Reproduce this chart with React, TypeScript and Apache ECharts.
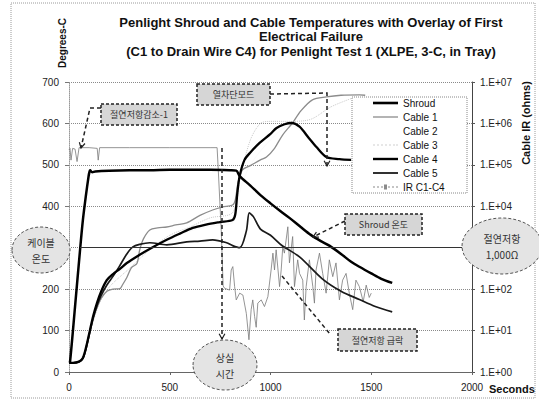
import React, { useEffect, useRef } from "react";
import * as echarts from "echarts";

// ---- data (seconds, value) ----
const xTicks = [0, 500, 1000, 1500, 2000];
const tempTicks = [0, 100, 200, 300, 400, 500, 600, 700];

const shroud: [number, number][] = [
  [0, 22], [5, 24], [30, 158], [54, 290], [69, 367], [85, 430], [95, 465], [100, 480], [105, 487],
  [115, 482], [130, 484], [200, 486], [300, 487], [400, 487], [500, 488], [600, 488], [700, 488],
  [800, 487], [830, 486], [847, 473], [900, 450], [950, 427], [1000, 407], [1050, 388], [1094, 372],
  [1150, 350], [1200, 331], [1250, 316], [1292, 305], [1350, 285], [1400, 266], [1441, 254],
  [1500, 238], [1550, 225], [1604, 215],
];

const cable1: [number, number][] = [
  [0, 22], [20, 22], [50, 25], [69, 32], [85, 55], [104, 95], [120, 128], [139, 155], [160, 178],
  [188, 195], [218, 200], [252, 201], [265, 210], [287, 228], [310, 252], [337, 262], [351, 295],
  [370, 322], [401, 343], [440, 348], [485, 350], [530, 355], [584, 360], [650, 378], [713, 391],
  [760, 398], [812, 403], [825, 415], [840, 460], [861, 488], [900, 498], [950, 512], [980, 519],
  [1020, 540], [1060, 572], [1109, 601], [1150, 630], [1208, 657], [1277, 664], [1350, 668],
  [1441, 669], [1470, 668],
];

const cable2: [number, number][] = [
  [0, 22], [50, 25], [100, 92], [150, 170], [200, 215], [300, 262], [400, 300], [500, 320],
  [600, 340], [700, 352], [812, 360], [850, 440], [900, 500], [1000, 560], [1100, 595],
  [1200, 560], [1300, 520], [1400, 510],
];

const cable3: [number, number][] = [
  [0, 22], [50, 25], [100, 90], [150, 165], [200, 205], [300, 250], [400, 295], [500, 330],
  [600, 350], [700, 372], [812, 385], [850, 470], [900, 560], [950, 600], [1000, 605],
  [1100, 605], [1200, 610], [1300, 640], [1400, 660],
];

const cable4: [number, number][] = [
  [0, 22], [20, 22], [50, 25], [69, 34], [85, 60], [104, 101], [120, 135], [139, 167], [160, 195],
  [188, 222], [220, 237], [250, 248], [287, 263], [351, 283], [400, 297], [485, 319], [550, 334],
  [614, 348], [680, 356], [748, 362], [812, 367], [825, 380], [835, 430], [847, 473], [871, 512],
  [900, 530], [946, 553], [1000, 575], [1030, 589], [1070, 598], [1104, 601], [1144, 592],
  [1190, 565], [1228, 543], [1277, 519], [1342, 514], [1400, 512],
];

const cable5: [number, number][] = [
  [0, 22], [20, 22], [50, 25], [69, 33], [85, 58], [104, 98], [120, 130], [139, 160], [160, 185],
  [188, 210], [220, 232], [250, 255], [287, 285], [317, 302], [350, 308], [401, 312], [485, 307],
  [584, 314], [650, 316], [713, 319], [782, 312], [812, 305], [847, 300], [880, 340], [895, 384],
  [915, 375], [950, 345], [1000, 330], [1055, 306], [1144, 278], [1257, 225], [1350, 195],
  [1441, 175], [1520, 158], [1604, 145],
];

const irC1C4: [number, number][] = [
  [0, 2.3e5], [5, 2.5e5], [10, 1.3e5], [18, 2.5e5], [30, 2.4e5], [40, 1.2e5], [50, 2.6e5],
  [100, 2.6e5], [140, 2.5e5], [145, 1.3e5], [152, 2.6e5], [300, 2.6e5], [500, 2.6e5], [700, 2.6e5],
  [735, 2.6e5], [740, 9e4], [755, 3e3], [765, 120], [772, 105], [797, 95], [805, 290], [813, 350],
  [822, 115], [830, 55], [847, 80], [863, 72], [880, 26], [893, 6], [904, 32], [912, 55], [921, 22],
  [929, 12], [937, 46], [954, 55], [970, 38], [987, 66], [1003, 290], [1012, 740], [1020, 290],
  [1028, 890], [1045, 115], [1053, 290], [1061, 1070], [1069, 740], [1086, 3200], [1094, 430],
  [1110, 1860], [1119, 115], [1135, 510], [1144, 240], [1160, 165], [1168, 18], [1177, 115],
  [1193, 510], [1210, 115], [1218, 46], [1226, 290], [1243, 740], [1259, 240], [1276, 80],
  [1292, 510], [1309, 200], [1325, 430], [1342, 55], [1358, 165], [1375, 240], [1391, 80],
  [1408, 32], [1424, 165], [1441, 115], [1460, 50], [1475, 125], [1490, 63], [1500, 80],
];

const failureTemp = 300;
const failureIR = 1000;

const FONT = "Liberation Sans, Arial, sans-serif";
const KFONT = "Noto Sans CJK KR, sans-serif";

function boxNote(x: number, y: number, w: number, h: number, text: string) {
  return [
    {
      type: "rect",
      z: 20,
      shape: { x, y, width: w, height: h },
      style: { fill: "#d6d6d6", stroke: "#222", lineWidth: 1.5, lineDash: [3, 2] },
    },
    {
      type: "text",
      z: 21,
      x: x + w / 2,
      y: y + h / 2,
      style: { text, fill: "#333", font: `9px ${KFONT}`, align: "center", verticalAlign: "middle" },
    },
  ];
}

function ellipseNote(cx: number, cy: number, rx: number, ry: number, lines: string[]) {
  return [
    {
      type: "ellipse",
      z: 20,
      shape: { cx, cy, rx, ry },
      style: { fill: "#e4e4e4", stroke: "#555", lineWidth: 1, lineDash: [3, 2] },
    },
    {
      type: "text",
      z: 21,
      x: cx,
      y: cy,
      style: {
        text: lines.join("\n"),
        fill: "#333",
        font: `10px ${KFONT}`,
        align: "center",
        verticalAlign: "middle",
        lineHeight: 16,
      },
    },
  ];
}

function dashedLine(points: number[][], arrow?: "end") {
  const els: any[] = [
    {
      type: "polyline",
      z: 19,
      shape: { points },
      style: { stroke: "#222", lineWidth: 1.5, lineDash: [4, 3], fill: null },
    },
  ];
  if (arrow) {
    const [x1, y1] = points[points.length - 2];
    const [x2, y2] = points[points.length - 1];
    const a = Math.atan2(y2 - y1, x2 - x1);
    const L = 6;
    els.push({
      type: "polyline",
      z: 19,
      shape: {
        points: [
          [x2 - L * Math.cos(a - 0.5), y2 - L * Math.sin(a - 0.5)],
          [x2, y2],
          [x2 - L * Math.cos(a + 0.5), y2 - L * Math.sin(a + 0.5)],
        ],
      },
      style: { stroke: "#222", lineWidth: 1.2, fill: null },
    });
  }
  return els;
}

const solidIcon = (h: number) => `path://M0 0H25V${h}H0Z`;
const dottedIcon = "path://M0 0H2V1.2H0ZM4 0H6V1.2H4ZM8 0H10V1.2H8ZM12 0H14V1.2H12ZM16 0H18V1.2H16ZM20 0H22V1.2H20ZM23 0H25V1.2H23Z";
const irIcon = "path://M0 2H2V3H0ZM4 2H6V3H4ZM8 2H10V3H8ZM11 0H14V5H11ZM15 2H17V3H15ZM19 2H21V3H19ZM23 2H25V3H23Z";

export default function App() {
  const ref = useRef<HTMLDivElement>(null);
  useEffect(() => {
    if (!ref.current) return;
    const chart = echarts.init(ref.current, undefined, { renderer: "svg" });
    const lineSeries = (name: string, data: [number, number][], color: string, width: number, type: any = "solid", z = 2) => ({
      name,
      type: "line",
      data,
      showSymbol: false,
      symbol: "none",
      smooth: 0.3,
      z,
      lineStyle: { color, width, type },
      itemStyle: { color },
    });
    chart.setOption({
      animation: false,
      backgroundColor: "#fff",
      textStyle: { fontFamily: FONT },
      grid: { left: 69, right: 67, top: 82, bottom: 29, containLabel: false },
      legend: {
        orient: "vertical",
        left: 373,
        top: 98,
        padding: 0,
        itemWidth: 25,
        itemHeight: 10,
        itemGap: 4,
        z: 30,
        textStyle: { fontSize: 10, color: "#111", fontFamily: FONT },
        data: [
          { name: "Shroud", icon: solidIcon(2.6), itemStyle: { color: "#000" } },
          { name: "Cable 1", icon: solidIcon(1.3), itemStyle: { color: "#8c8c8c" } },
          { name: "Cable 2", icon: solidIcon(1), itemStyle: { color: "#ffffff" } },
          { name: "Cable 3", icon: dottedIcon, itemStyle: { color: "#d0d0d0" } },
          { name: "Cable 4", icon: solidIcon(2.4), itemStyle: { color: "#000" } },
          { name: "Cable 5", icon: solidIcon(1.8), itemStyle: { color: "#1a1a1a" } },
          { name: "IR C1-C4", icon: irIcon, itemStyle: { color: "#8a8a8a" } },
        ],
      },
      xAxis: {
        type: "value",
        min: xTicks[0],
        max: xTicks[xTicks.length - 1],
        interval: 500,
        axisLine: { show: true, lineStyle: { color: "#666", width: 1 } },
        axisTick: { show: true, length: 3, lineStyle: { color: "#666" } },
        axisLabel: { fontSize: 10, color: "#222", margin: 10, fontFamily: FONT, formatter: (v: number) => String(v) },
        splitLine: { show: false },
      },
      yAxis: [
        {
          type: "value",
          min: tempTicks[0],
          max: tempTicks[tempTicks.length - 1],
          interval: 100,
          axisLine: { show: true, lineStyle: { color: "#999", type: "dotted" } },
          axisTick: { show: true, length: 4, lineStyle: { color: "#777" } },
          axisLabel: {
            fontSize: 10,
            color: "#222",
            margin: 10,
            fontFamily: FONT,
            formatter: (v: number) => (v === failureTemp ? "" : String(v)),
          },
          splitLine: { show: true, lineStyle: { color: "#8a8a8a", type: "dotted", width: 1 } },
        },
        {
          type: "log",
          logBase: 10,
          min: 1,
          max: 1e7,
          splitNumber: 7,
          position: "right",
          axisLine: { show: true, lineStyle: { color: "#444", width: 1 } },
          axisTick: { show: true, length: 3, lineStyle: { color: "#555" } },
          axisLabel: {
            fontSize: 10,
            color: "#222",
            margin: 8,
            fontFamily: FONT,
            formatter: (v: number) => {
              const e = Math.round(Math.log10(v));
              return Math.pow(10, e) === failureIR ? "" : "1.E+" + String(e).padStart(2, "0");
            },
          },
          splitLine: { show: false },
        },
      ],
      series: [
        lineSeries("Cable 2", cable2, "#f7f7f7", 0.6, "solid", 1),
        lineSeries("Cable 3", cable3, "#c8c8c8", 1, "dotted", 1),
        {
          ...lineSeries("IR C1-C4", irC1C4, "#7a7a7a", 0.8, "solid", 2),
          yAxisIndex: 1,
          smooth: false,
        },
        lineSeries("Cable 1", cable1, "#8c8c8c", 1.3),
        lineSeries("Cable 5", cable5, "#1a1a1a", 1.7),
        lineSeries("Cable 4", cable4, "#000", 2.3),
        {
          ...lineSeries("Shroud", shroud, "#000", 2.5),
          markLine: {
            silent: true,
            symbol: "none",
            label: { show: false },
            lineStyle: { color: "#333", type: "solid", width: 1 },
            data: [[{ coord: [54, failureTemp] }, { coord: [2000, failureTemp] }]],
          },
        },
      ],
      graphic: [
        {
          type: "rect",
          z: 0,
          shape: { x: 11, y: 3, width: 524, height: 395 },
          style: { fill: null, stroke: "#9a9a9a", lineWidth: 1, lineDash: [1, 1] },
        },
        {
          type: "text",
          x: 311,
          y: 15,
          style: {
            text: "Penlight Shroud and Cable Temperatures with Overlay of First\nElectrical Failure\n(C1 to Drain Wire C4) for Penlight Test 1 (XLPE, 3-C, in Tray)",
            font: `bold 13px ${FONT}`,
            fill: "#111",
            align: "center",
            verticalAlign: "top",
            lineHeight: 14.5,
          },
        },
        {
          type: "text",
          x: 62,
          y: 43,
          rotation: Math.PI / 2,
          style: { text: "Degrees-C", font: `bold 10px ${FONT}`, fill: "#111", align: "center", verticalAlign: "middle" },
        },
        {
          type: "text",
          x: 526,
          y: 123,
          rotation: Math.PI / 2,
          style: { text: "Cable IR (ohms)", font: `bold 11px ${FONT}`, fill: "#111", align: "center", verticalAlign: "middle" },
        },
        {
          type: "text",
          x: 489,
          y: 389,
          style: { text: "Seconds", font: `bold 11px ${FONT}`, fill: "#111", align: "left", verticalAlign: "middle" },
        },
        {
          type: "rect",
          z: 25,
          shape: { x: 352, y: 97, width: 115, height: 96 },
          style: { fill: "#fff", stroke: "#888", lineWidth: 1, lineDash: [1, 1] },
        },
        ...boxNote(101, 104, 76, 21, "절연저항감소-1"),
        ...boxNote(197, 84, 73, 21, "열차단모드"),
        ...boxNote(345, 214, 77, 21, "Shroud 온도"),
        ...boxNote(338, 329, 79, 22, "절연저항 급락"),
        ...dashedLine([[101, 108], [90, 108], [81, 148]], "end"),
        ...dashedLine([[270, 94], [327, 93], [327, 166]], "end"),
        ...dashedLine([[345, 221], [313, 237]], "end"),
        ...dashedLine([[282, 276], [330, 334]]),
        ...dashedLine([[222, 148], [222, 339]], "end"),
        ...ellipseNote(41, 250, 29, 23, ["케이블", "온도"]),
        ...ellipseNote(502, 246, 40, 28, ["절연저항", "1,000Ω"]),
        ...ellipseNote(225, 365, 32, 25, ["상실", "시간"]),
      ],
    });
    return () => chart.dispose();
  }, []);
  return (
    <div
      ref={ref}
      style={{ position: "absolute", left: 0, top: 0, width: 539, height: 401, background: "#fff" }}
    />
  );
}
